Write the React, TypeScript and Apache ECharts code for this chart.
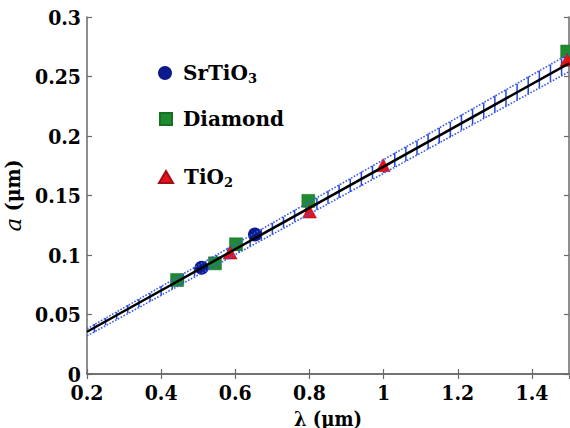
import React, { useEffect, useRef } from "react";
import * as echarts from "echarts";

const xTicks = { min: 0.2, max: 1.5, interval: 0.2 };
const yTicks = { min: 0, max: 0.3, interval: 0.05 };

const srTiO3 = [
  [0.509, 0.0893],
  [0.653, 0.1172],
];
const diamond = [
  [0.443, 0.079],
  [0.545, 0.093],
  [0.602, 0.109],
  [0.797, 0.1455],
  [1.495, 0.271],
];
const tiO2 = [
  [0.586, 0.102],
  [0.8, 0.1365],
  [0.999, 0.1755],
  [1.495, 0.264],
];

const fitLine = [
  [0.2, 0.0355],
  [1.5, 0.261],
];
const bandUpper = [
  [0.2, 0.038],
  [1.5, 0.269],
];
const bandLower = [
  [0.2, 0.032],
  [1.5, 0.254],
];
// [x, lower, upper] hatch marks inside the uncertainty band
const hatch = [
  [0.22, 0.035, 0.042], [0.25, 0.041, 0.047], [0.28, 0.046, 0.052],
  [0.31, 0.051, 0.058], [0.34, 0.056, 0.063], [0.37, 0.061, 0.068],
  [0.4, 0.066, 0.074], [0.43, 0.071, 0.079], [0.46, 0.076, 0.084],
  [0.49, 0.082, 0.09], [0.52, 0.087, 0.095], [0.55, 0.092, 0.1],
  [0.58, 0.097, 0.106], [0.61, 0.102, 0.111], [0.64, 0.107, 0.116],
  [0.67, 0.112, 0.122], [0.7, 0.117, 0.127], [0.73, 0.123, 0.132],
  [0.76, 0.128, 0.138], [0.79, 0.133, 0.143], [0.82, 0.138, 0.148],
  [0.85, 0.143, 0.154], [0.88, 0.148, 0.159], [0.91, 0.153, 0.164],
  [0.94, 0.158, 0.17], [0.97, 0.164, 0.175], [1.0, 0.169, 0.18],
  [1.03, 0.174, 0.186], [1.06, 0.179, 0.191], [1.09, 0.184, 0.196],
  [1.12, 0.189, 0.202], [1.15, 0.194, 0.207], [1.18, 0.199, 0.212],
  [1.21, 0.205, 0.218], [1.24, 0.21, 0.223], [1.27, 0.215, 0.228],
  [1.3, 0.22, 0.234], [1.33, 0.225, 0.239], [1.36, 0.23, 0.244],
  [1.39, 0.235, 0.25], [1.42, 0.24, 0.255], [1.45, 0.246, 0.26],
  [1.48, 0.251, 0.265],
];

const FONT = "DejaVu Serif Condensed";
const FONT_Y = "DejaVu Serif Condensed";
const FONT_LEG = "DejaVu Serif";
const AXIS_COLOR = "#6a6a6a";
const C_SR = "#0c1a8c";
const C_DIA = "#1f8a30";
const C_TIO = "#e8101c";

export default function App() {
  const ref = useRef<HTMLDivElement>(null);
  useEffect(() => {
    if (!ref.current) return;
    const chart = echarts.init(ref.current, null, { renderer: "svg" });
    const labelStyle = {
      fontFamily: FONT,
      fontWeight: "bold" as const,
      fontSize: 21,
      color: "#000",
    };
    const axisLine = { show: true, lineStyle: { color: AXIS_COLOR, width: 1.5 } };
    const axisTick = { show: true, inside: true, length: 5, lineStyle: { color: AXIS_COLOR, width: 1.2 } };
    const legendText = (rich: any) => ({
      fontFamily: FONT_LEG,
      fontWeight: "bold" as const,
      fontSize: 20,
      color: "#000",
      padding: [0, 0, 0, 6],
      rich,
    });
    const subRich = {
      sub: {
        fontFamily: FONT_LEG,
        fontWeight: "bold",
        fontSize: 13,
        color: "#000",
        padding: [10, 0, 0, 0],
      },
    };
    chart.setOption({
      animation: false,
      backgroundColor: "#fff",
      grid: { left: 87, right: 1, top: 17, bottom: 54, outerBoundsMode: "none", containLabel: false },
      xAxis: [
        {
          type: "value",
          ...xTicks,
          position: "bottom",
          axisLine,
          axisTick,
          splitLine: { show: false },
          axisLabel: { ...labelStyle, margin: 8, showMaxLabel: false },
          name: "λ (μm)",
          nameLocation: "middle",
          nameGap: 26,
          nameTextStyle: { fontFamily: FONT, fontWeight: "bold", fontSize: 20, lineHeight: 22, color: "#000" },
        },
        {
          type: "value",
          ...xTicks,
          position: "top",
          axisLine,
          axisTick,
          splitLine: { show: false },
          axisLabel: { show: false },
        },
      ],
      yAxis: [
        {
          type: "value",
          ...yTicks,
          position: "left",
          axisLine,
          axisTick,
          splitLine: { show: false },
          axisLabel: { ...labelStyle, fontFamily: FONT_Y, margin: 6 },
          name: "{it|a} (μm)",
          nameLocation: "middle",
          nameGap: 52,
          nameTextStyle: {
            fontFamily: FONT_Y,
            fontWeight: "bold",
            fontSize: 21,
            color: "#000",
            rich: { it: { fontFamily: "DejaVu Serif", fontStyle: "italic", fontWeight: "normal", fontSize: 23, color: "#000" } },
          },
        },
        {
          type: "value",
          ...yTicks,
          position: "right",
          axisLine,
          axisTick,
          splitLine: { show: false },
          axisLabel: { show: false },
        },
      ],
      legend: [
        {
          data: [{ name: "SrTiO3", icon: "circle" }],
          left: 158,
          top: 63,
          padding: 0,
          itemWidth: 14,
          itemHeight: 14,
          itemGap: 0,
          itemStyle: { color: C_SR, opacity: 1 },
          itemTextGap: 11,
          formatter: () => "SrTiO{sub|3}",
          textStyle: legendText(subRich),
          selectedMode: false,
        },
        {
          data: [{ name: "Diamond", icon: "rect" }],
          left: 159,
          top: 109,
          padding: 0,
          itemWidth: 12,
          itemHeight: 12,
          itemStyle: { color: C_DIA, opacity: 1 },
          itemTextGap: 12,
          textStyle: legendText({}),
          selectedMode: false,
        },
        {
          data: [{ name: "TiO2", icon: "triangle" }],
          left: 158,
          top: 167,
          padding: 0,
          itemWidth: 14,
          itemHeight: 12,
          itemStyle: { color: C_TIO, opacity: 1 },
          itemTextGap: 11,
          formatter: () => "TiO{sub|2}",
          textStyle: legendText(subRich),
          selectedMode: false,
        },
      ],
      series: [
        {
          type: "line",
          data: bandUpper,
          symbol: "none",
          lineStyle: { type: "dotted", color: "#3a5ae8", width: 1.6 },
          silent: true,
        },
        {
          type: "line",
          data: bandLower,
          symbol: "none",
          lineStyle: { type: "dotted", color: "#3a5ae8", width: 1.6 },
          silent: true,
        },
        {
          type: "custom",
          data: hatch,
          encode: { x: 0, y: [1, 2] },
          silent: true,
          renderItem: (_params: any, api: any) => {
            const x = api.value(0);
            const p1 = api.coord([x, api.value(1)]);
            const p2 = api.coord([x, api.value(2)]);
            return {
              type: "line",
              shape: { x1: p1[0], y1: p1[1], x2: p2[0], y2: p2[1] },
              style: { stroke: "#2448d8", lineWidth: 1.5 },
            };
          },
        },
        {
          type: "line",
          data: fitLine,
          symbol: "none",
          lineStyle: { color: "#000", width: 2.5 },
          silent: true,
        },
        {
          name: "Diamond",
          type: "scatter",
          data: diamond,
          symbol: "rect",
          symbolSize: 13,
          itemStyle: { color: C_DIA, opacity: 1, borderColor: "#157022", borderWidth: 0.5 },
        },
        {
          name: "SrTiO3",
          type: "scatter",
          data: srTiO3,
          symbol: "circle",
          symbolSize: 14,
          itemStyle: { color: C_SR, opacity: 1 },
        },
        {
          name: "TiO2",
          type: "scatter",
          data: tiO2,
          symbol: "triangle",
          symbolSize: [14, 13],
          itemStyle: { color: C_TIO, opacity: 1, borderColor: "#a01018", borderWidth: 0.5 },
        },
      ],
    });
    return () => chart.dispose();
  }, []);
  return (
    <div
      ref={ref}
      style={{ position: "fixed", left: 0, top: 0, width: 570, height: 428, background: "#fff" }}
    />
  );
}
